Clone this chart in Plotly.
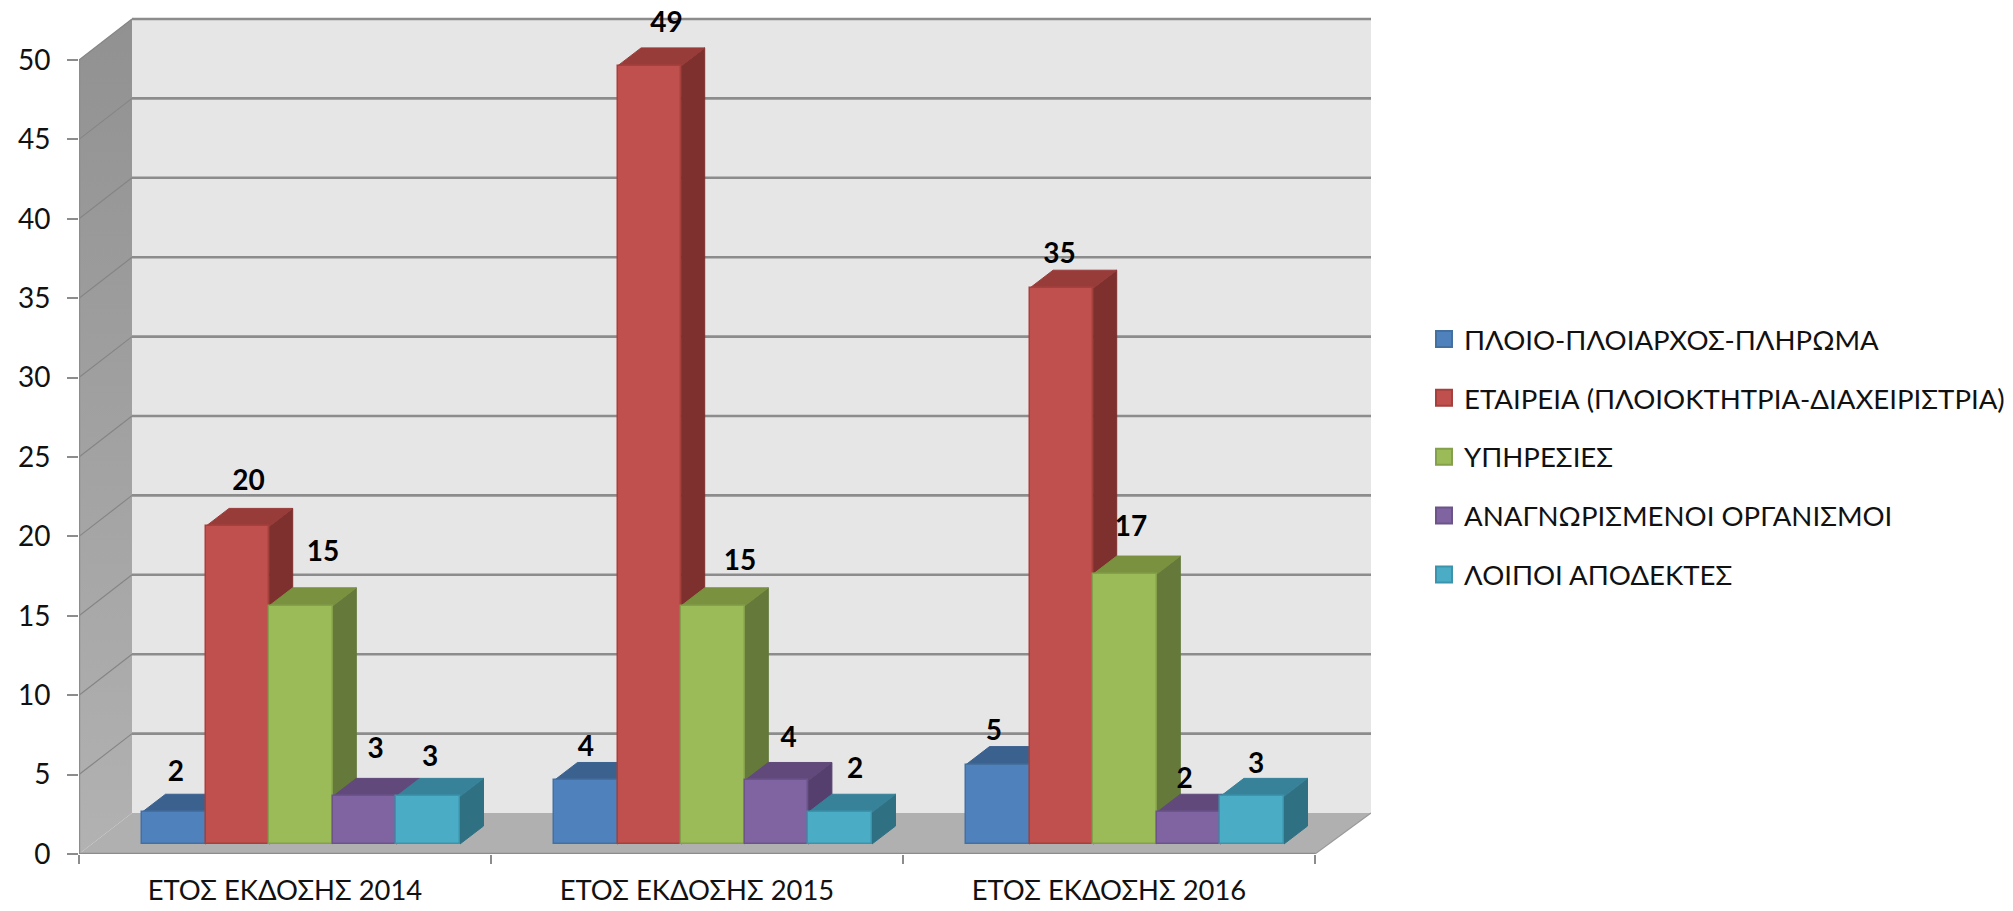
import plotly.graph_objects as go

# ---------- data ----------
categories = ["ΕΤΟΣ ΕΚΔΟΣΗΣ 2014", "ΕΤΟΣ ΕΚΔΟΣΗΣ 2015", "ΕΤΟΣ ΕΚΔΟΣΗΣ 2016"]
series_names = ["ΠΛΟΙΟ-ΠΛΟΙΑΡΧΟΣ-ΠΛΗΡΩΜΑ", "ΕΤΑΙΡΕΙΑ (ΠΛΟΙΟΚΤΗΤΡΙΑ-ΔΙΑΧΕΙΡΙΣΤΡΙΑ)",
                "ΥΠΗΡΕΣΙΕΣ", "ΑΝΑΓΝΩΡΙΣΜΕΝΟΙ ΟΡΓΑΝΙΣΜΟΙ", "ΛΟΙΠΟΙ ΑΠΟΔΕΚΤΕΣ"]
ploio = [2, 4, 5]
etaireia = [20, 49, 35]
ypiresies = [15, 15, 17]
organismoi = [3, 4, 2]
loipoi = [3, 2, 3]
series_values = [ploio, etaireia, ypiresies, organismoi, loipoi]
y_ticks = list(range(0, 55, 5))

# ---------- styles ----------
front = ["#4f81bd", "#c0504d", "#9bbb59", "#8064a2", "#4bacc6"]
edge = ["#44709f", "#a5403d", "#84a04a", "#6c5489", "#3b94ac"]
top = ["#3b618f", "#983c3a", "#7a9140", "#614a7b", "#378299"]
side = ["#335a85", "#7e302e", "#65793a", "#553f6e", "#2f7083"]
FONT = "Lato, 'Noto Sans', sans-serif"
TXT = "#111111"
GRID = "#8c8c8c"

# pixel scale of the drawing (used only to express the oblique projection in data units)
PX_X = 412.0       # px per category
PX_Y = 15.88       # px per value unit
L, R, T, B = 79, 1371, 0, 854
W, H = 2013, 911
wall_dx_left = 53 / PX_X
wall_dx_right = 56 / PX_X
wall_dy = 41 / PX_Y
bar_start = 63 / PX_X
bar_w = 63.6 / PX_X
bar_base = 10 / PX_Y
bar_dx = 23.5 / PX_X
bar_dy = 18 / PX_Y

# hand-placed label nudges, in px, per series then per category
label_dx = [[2, 0, -4], [11, 17, -2], [22, 27, 6], [11, 12, -4], [2, 15, 4]]
label_up = [[38, 31, 32], [43, 41, 32], [52, 43, 45], [45, 40, 31], [37, 41, 30]]

fig = go.Figure()
NOHOVER = dict(hoverinfo="skip", showlegend=False)

# left wall
fig.add_trace(go.Scatter(
    x=[0, wall_dx_left, wall_dx_left, 0, 0], y=[0, wall_dy, 50 + wall_dy, 50, 0],
    mode="lines", line=dict(width=0), fill="toself",
    fillgradient=dict(type="vertical", colorscale=[[0, "#b2b2b2"], [1, "#919191"]]),
    zorder=0, **NOHOVER))
# back wall
fig.add_trace(go.Scatter(
    x=[wall_dx_left, 3 + wall_dx_right, 3 + wall_dx_right, wall_dx_left, wall_dx_left],
    y=[wall_dy, wall_dy, 50 + wall_dy, 50 + wall_dy, wall_dy],
    mode="lines", line=dict(width=0), fill="toself", fillcolor="#e6e6e6", zorder=0, **NOHOVER))
# floor
fig.add_trace(go.Scatter(
    x=[0, wall_dx_left, 3 + wall_dx_right, 3, 0], y=[0, wall_dy, wall_dy, 0, 0],
    mode="lines", line=dict(width=0), fill="toself", fillcolor="#b0b0b0", zorder=0, **NOHOVER))

# grid lines: slanted part on the side wall, straight part on the back wall
gx_side, gy_side, gx_back, gy_back = [], [], [], []
for v in y_ticks[1:]:
    gx_side += [0, wall_dx_left, None]
    gy_side += [v, v + wall_dy, None]
    gx_back += [wall_dx_left, 3 + wall_dx_right, None]
    gy_back += [v + wall_dy, v + wall_dy, None]
fig.add_trace(go.Scatter(x=gx_side, y=gy_side, mode="lines",
                         line=dict(color="#858585", width=1.2), zorder=1, **NOHOVER))
fig.add_trace(go.Scatter(x=gx_back, y=gy_back, mode="lines",
                         line=dict(color=GRID, width=2.6), zorder=1, **NOHOVER))
# axis edges
fig.add_trace(go.Scatter(x=[3, 0, 0], y=[0, 0, 50], mode="lines", cliponaxis=False,
                         line=dict(color=GRID, width=2.4), zorder=1, **NOHOVER))
fig.add_trace(go.Scatter(x=[3, 3 + wall_dx_right], y=[0, wall_dy], mode="lines",
                         line=dict(color="#9a9a9a", width=1.2), zorder=1, **NOHOVER))

# bars
for i, vals in enumerate(series_values):
    xs_left = [c + bar_start + i * bar_w for c in range(len(categories))]
    tx, ty, sx, sy = [], [], [], []
    for x0, v in zip(xs_left, vals):
        x1 = x0 + bar_w
        h = bar_base + v
        tx += [x0, x0 + bar_dx, x1 + bar_dx, x1, x0, None]
        ty += [h, h + bar_dy, h + bar_dy, h, h, None]
        sx += [x1, x1 + bar_dx, x1 + bar_dx, x1, x1, None]
        sy += [bar_base, bar_base + bar_dy, h + bar_dy, h, bar_base, None]
    z = 2 + i * 2
    fig.add_trace(go.Scatter(x=sx, y=sy, mode="lines", fill="toself", fillcolor=side[i],
                             line=dict(color=side[i], width=1), zorder=z, **NOHOVER))
    fig.add_trace(go.Scatter(x=tx, y=ty, mode="lines", fill="toself", fillcolor=top[i],
                             line=dict(color=top[i], width=1), zorder=z, **NOHOVER))
    fig.add_trace(go.Bar(x=[x + bar_w / 2 for x in xs_left], y=vals, base=bar_base, width=bar_w,
                         marker=dict(color=front[i], line=dict(color=edge[i], width=1.5)),
                         zorder=z + 1, name=series_names[i], showlegend=False,
                         legendgroup=series_names[i]))
    # legend entry
    fig.add_trace(go.Scatter(x=[None], y=[None], mode="markers", name=series_names[i],
                             legendgroup=series_names[i],
                             marker=dict(symbol="square", size=16, color=front[i],
                                         line=dict(color=edge[i], width=2))))

# data labels
lx, ly, lt = [], [], []
for i, vals in enumerate(series_values):
    for c, v in enumerate(vals):
        lx.append(c + bar_start + (i + 0.5) * bar_w + label_dx[i][c] / PX_X)
        ly.append(bar_base + v + label_up[i][c] / PX_Y)
        lt.append(str(v))
fig.add_trace(go.Scatter(x=lx, y=ly, text=lt, mode="text", cliponaxis=False, textposition="middle center",
                         textfont=dict(family=FONT, size=28, color="#000000", weight="bold"),
                         zorder=20, **NOHOVER))

fig.update_layout(
    width=W, height=H, autosize=False, barmode="overlay", bargap=0,
    margin=dict(l=L, r=W - R, t=T, b=H - B, pad=0, autoexpand=False),
    paper_bgcolor="#ffffff", plot_bgcolor="#ffffff",
    font=dict(family=FONT, color=TXT, size=27),
    legend=dict(xref="container", yref="container", x=1424 / W, y=1 - 457 / H,
                xanchor="left", yanchor="middle", tracegroupgap=20,
                font=dict(family=FONT, size=27.6, color=TXT),
                itemclick=False, itemdoubleclick=False, bgcolor="rgba(0,0,0,0)"),
    xaxis=dict(range=[0, (R - L) / PX_X], tickmode="array", automargin=False,
               tickvals=[c + 0.5 for c in range(len(categories))], ticktext=categories,
               ticks="", showgrid=False, zeroline=False, showline=False, ticklabelstandoff=18,
               tickfont=dict(family=FONT, size=27.4, color=TXT),
               minor=dict(ticks="outside", tickmode="array", tickvals=[0, 1, 2, 3], ticklen=9,
                          tickwidth=2, tickcolor=GRID, showgrid=False)),
    yaxis=dict(range=[0, (B - T) / PX_Y], tickmode="array", tickvals=y_ticks, automargin=False,
               ticks="outside", ticklen=11, tickwidth=2, tickcolor=GRID,
               showgrid=False, zeroline=False, showline=False, ticklabelstandoff=11,
               tickfont=dict(family=FONT, size=28, color=TXT)),
)

fig.write_html("out.html", config=dict(displayModeBar=False),
               post_script="document.body.style.margin='0';document.body.style.overflow='hidden';")
